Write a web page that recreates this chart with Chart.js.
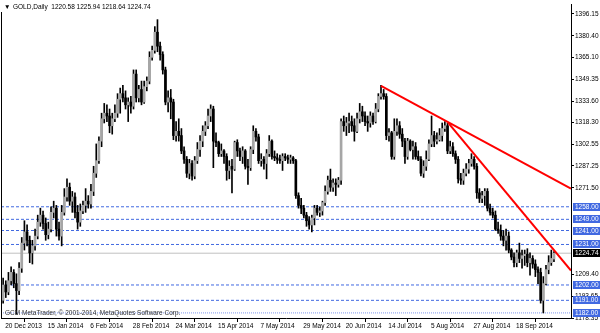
<!DOCTYPE html>
<html>
<head>
<meta charset="utf-8">
<script src="https://cdn.jsdelivr.net/npm/chart.js@4.4.1/dist/chart.umd.min.js"></script>
<style>
html, body { margin: 0; padding: 0; background: #fff; }
</style>
</head>
<body>
<canvas id="chart" width="600" height="333"></canvas>
<script>
// daily OHLC, bar 0 = 20 Dec 2013
var opens = [1191,1202,1197,1205,1211,1203,1198,1214,1232,1240,
    1234,1225,1230,1237,1247,1252,1246,1238,1242,1254,
    1257,1242,1237,1254,1265,1272,1262,1265,1254,1247,
    1255,1259,1262,1260,1269,1282,1291,1305,1321,1325,
    1323,1316,1321,1325,1335,1339,1336,1331,1333,1330,
    1353,1336,1342,1333,1344,1348,1365,1370,1383,1373,
    1367,1356,1333,1336,1333,1309,1312,1309,1298,1292,
    1282,1289,1280,1291,1299,1305,1312,1316,1323,1328,
    1305,1304,1296,1298,1294,1284,1287,1285,1304,1298,
    1294,1298,1287,1286,1299,1312,1308,1291,1292,1289,
    1296,1305,1294,1293,1292,1291,1294,1293,1292,1293,
    1291,1266,1259,1257,1252,1248,1245,1250,1257,1254,
    1255,1261,1269,1277,1272,1275,1274,1277,1319,1316,
    1318,1319,1316,1312,1321,1326,1323,1319,1318,1323,
    1319,1328,1337,1339,1337,1309,1311,1294,1312,1316,
    1310,1305,1294,1305,1299,1301,1294,1292,1282,1287,
    1292,1303,1309,1305,1306,1309,1314,1316,1298,1301,
    1296,1292,1278,1277,1282,1285,1289,1292,1287,1268,
    1264,1266,1269,1257,1254,1252,1242,1241,1237,1234,
    1237,1227,1222,1218,1225,1221,1223,1224,1218,1221,
    1217,1213,1211,1191,1203,1213,1218,1220.58];
var highs = [1207,1205,1211,1215,1213,1210,1218,1236,1248,1245,
    1237,1234,1242,1252,1257,1255,1250,1247,1258,1262,
    1259,1247,1259,1271,1278,1275,1269,1268,1259,1260,
    1262,1271,1266,1274,1287,1303,1308,1325,1332,1331,
    1328,1325,1331,1339,1343,1345,1341,1336,1337,1356,
    1356,1345,1348,1348,1351,1369,1373,1387,1392,1376,
    1369,1358,1341,1342,1335,1319,1321,1314,1301,1294,
    1292,1291,1294,1304,1309,1316,1319,1328,1331,1330,
    1311,1305,1303,1299,1296,1291,1292,1305,1306,1300,
    1301,1299,1292,1301,1316,1314,1310,1296,1294,1299,
    1309,1306,1298,1296,1295,1296,1296,1295,1295,1294,
    1292,1268,1264,1259,1254,1251,1252,1259,1259,1258,
    1262,1273,1280,1285,1278,1278,1279,1321,1323,1322,
    1325,1323,1321,1325,1332,1330,1326,1323,1326,1325,
    1332,1339,1345,1342,1339,1314,1312,1321,1321,1319,
    1314,1307,1307,1306,1305,1304,1298,1294,1291,1298,
    1306,1323,1312,1311,1314,1318,1319,1318,1305,1304,
    1298,1294,1282,1285,1289,1292,1296,1294,1289,1271,
    1269,1271,1271,1260,1257,1255,1247,1245,1241,1242,
    1240,1228,1225,1227,1232,1227,1227,1228,1225,1223,
    1220,1215,1214,1208,1216,1223,1227,1225.94];
var lows = [1189,1193,1195,1202,1200,1181,1195,1211,1227,1230,
    1218,1217,1227,1235,1244,1242,1234,1235,1240,1250,
    1237,1234,1230,1252,1262,1259,1254,1250,1242,1244,
    1253,1254,1257,1257,1266,1279,1289,1301,1318,1319,
    1311,1310,1319,1322,1325,1333,1328,1319,1325,1328,
    1333,1333,1331,1332,1341,1346,1363,1368,1369,1363,
    1353,1331,1326,1321,1306,1305,1305,1296,1289,1279,
    1278,1277,1278,1289,1294,1301,1309,1314,1319,1286,
    1301,1294,1294,1289,1277,1278,1268,1284,1294,1291,
    1289,1285,1274,1284,1296,1305,1289,1287,1285,1278,
    1294,1292,1291,1289,1289,1284,1291,1289,1289,1289,
    1264,1257,1253,1250,1244,1242,1240,1245,1252,1251,
    1252,1259,1267,1269,1269,1266,1272,1274,1312,1309,
    1311,1312,1305,1311,1318,1319,1316,1312,1315,1317,
    1318,1326,1335,1335,1306,1305,1292,1292,1309,1307,
    1301,1289,1292,1298,1292,1292,1291,1280,1279,1284,
    1291,1301,1301,1303,1305,1305,1312,1296,1296,1294,
    1289,1275,1274,1274,1280,1282,1287,1285,1264,1261,
    1261,1259,1255,1252,1250,1241,1239,1234,1230,1227,
    1225,1220,1215,1215,1218,1214,1216,1215,1209,1214,
    1208,1203,1189,1182,1202,1210,1216,1218.64];
var closes = [1202,1197,1205,1211,1203,1198,1214,1232,1240,1234,
    1225,1230,1237,1247,1252,1246,1238,1242,1254,1257,
    1242,1237,1254,1265,1272,1262,1265,1254,1247,1255,
    1259,1262,1260,1269,1282,1291,1305,1321,1325,1323,
    1316,1321,1325,1335,1339,1336,1331,1333,1330,1353,
    1336,1342,1333,1344,1348,1365,1370,1383,1373,1367,
    1356,1333,1336,1333,1309,1312,1309,1298,1292,1282,
    1289,1280,1291,1299,1305,1312,1316,1323,1328,1305,
    1304,1296,1298,1294,1284,1287,1285,1304,1298,1294,
    1298,1287,1286,1299,1312,1308,1291,1292,1289,1296,
    1305,1294,1293,1292,1291,1294,1293,1292,1293,1291,
    1266,1259,1257,1252,1248,1245,1250,1257,1254,1255,
    1261,1269,1277,1272,1275,1274,1277,1319,1316,1318,
    1319,1316,1312,1321,1326,1323,1319,1318,1323,1319,
    1328,1337,1339,1337,1309,1311,1294,1312,1316,1310,
    1305,1294,1305,1299,1301,1294,1292,1282,1287,1292,
    1303,1309,1305,1306,1309,1314,1316,1298,1301,1296,
    1292,1278,1277,1282,1285,1289,1292,1287,1268,1264,
    1266,1269,1257,1254,1252,1242,1241,1237,1234,1237,
    1227,1222,1218,1225,1221,1223,1224,1218,1221,1217,
    1213,1211,1191,1203,1213,1218,1221,1224.74];

var dateTickBars = [0, 16, 32, 48, 64, 80, 96, 112, 128, 144, 160, 176, 192];
var dateTickLabels = ["20 Dec 2013", "15 Jan 2014", "6 Feb 2014", "28 Feb 2014", "24 Mar 2014",
    "15 Apr 2014", "7 May 2014", "29 May 2014", "20 Jun 2014", "14 Jul 2014",
    "5 Aug 2014", "27 Aug 2014", "18 Sep 2014"];
var priceTicks = [1396.15, 1380.40, 1365.10, 1349.35, 1333.60, 1318.30, 1302.55,
    1287.25, 1271.50, 1209.40, 1193.65, 1178.35];

// horizontal levels and trendlines drawn on the chart
var levels = [1258, 1249, 1241, 1231, 1202, 1191, 1182];
var bidPrice = 1224.74;
var trend1 = [[142, 1344.5], [213.4, 1271.0]];
var trend2 = [[167.2, 1318.2], [213.4, 1212.3]];

var xMin = -0.8, xMax = 213.4;
var yMin = 1178.35, yMax = 1402.55;
var blue = '#4169e1';
var fontFam = '"Liberation Sans", "DejaVu Sans", sans-serif';
var fontSize = 6.5;

var bodyData = [], wickData = [], bodyColors = [];
for (var i = 0; i < opens.length; i++) {
    bodyData.push({x: i, y: [opens[i], closes[i]]});
    wickData.push({x: i, y: [lows[i], highs[i]]});
    bodyColors.push(closes[i] >= opens[i] ? '#a6a6a6' : '#000000');
}

var datasets = [
    {type: 'bar', data: bodyData, backgroundColor: bodyColors, barThickness: 2,
        minBarLength: 1, grouped: false, order: 1},
    {type: 'bar', data: wickData, backgroundColor: '#000000', barThickness: 1,
        grouped: false, order: 2}
];

levels.forEach(function(v) {
    datasets.push({type: 'line', data: [{x: xMin, y: v}, {x: xMax, y: v}],
        borderColor: v === 1182 ? '#7d96ea' : blue, borderWidth: 1,
        borderDash: v === 1182 ? [1, 1] : [3, 2], pointRadius: 0, order: 3});
});
datasets.push({type: 'line', data: [{x: xMin, y: bidPrice}, {x: xMax, y: bidPrice}],
    borderColor: '#c0c0c0', borderWidth: 1, pointRadius: 0, order: 3});
[trend1, trend2].forEach(function(t) {
    datasets.push({type: 'line', data: [{x: t[0][0], y: t[0][1]}, {x: t[1][0], y: t[1][1]}],
        borderColor: '#ff0000', borderWidth: 2, pointRadius: 0, order: 0});
});

var decor = {
    id: 'decor',
    afterDraw: function(chart) {
        var ctx = chart.ctx;
        var y = chart.scales.y;
        var area = chart.chartArea;
        ctx.save();

        // left frame
        ctx.strokeStyle = '#000';
        ctx.lineWidth = 1;
        ctx.beginPath();
        ctx.moveTo(1.5, 12);
        ctx.lineTo(1.5, area.bottom);
        ctx.stroke();

        ctx.font = fontSize + 'px ' + fontFam;
        ctx.textBaseline = 'middle';
        ctx.textAlign = 'left';

        // price labels of the levels
        levels.forEach(function(v) {
            var py = Math.round(y.getPixelForValue(v));
            ctx.fillStyle = blue;
            ctx.fillRect(area.right + 2, py - 4, 600 - area.right - 2, 8);
            ctx.fillStyle = '#fff';
            ctx.fillText(v.toFixed(2), area.right + 4, py + 0.5);
        });
        var by = Math.round(y.getPixelForValue(bidPrice));
        ctx.fillStyle = '#000';
        ctx.fillRect(area.right + 2, by - 4, 600 - area.right - 2, 8);
        ctx.fillStyle = '#fff';
        ctx.fillText(bidPrice.toFixed(2), area.right + 4, by + 0.5);

        // header and copyright
        ctx.fillStyle = '#000';
        ctx.fillText('\u25BC', 4, 7);
        ctx.fillText('GOLD,Daily  ' + opens[opens.length - 1].toFixed(2) + ' ' + highs[highs.length - 1].toFixed(2) +
            ' ' + lows[lows.length - 1].toFixed(2) + ' ' + closes[closes.length - 1].toFixed(2), 13, 7);
        ctx.fillStyle = '#333';
        ctx.fillText('GCM MetaTrader, \u00A9 2001-2014, MetaQuotes Software Corp.', 5, 313);
        ctx.restore();
    }
};

new Chart(document.getElementById('chart'), {
    type: 'bar',
    data: {datasets: datasets},
    plugins: [decor],
    options: {
        responsive: false,
        animation: false,
        events: [],
        layout: {padding: {left: 1, top: 3, right: 0, bottom: 0}},
        plugins: {legend: {display: false}, tooltip: {enabled: false}},
        scales: {
            x: {
                type: 'linear',
                min: xMin,
                max: xMax,
                offset: false,
                afterBuildTicks: function(axis) {
                    axis.ticks = dateTickBars.map(function(b) { return {value: b}; });
                },
                afterFit: function(axis) { axis.height = 15; },
                ticks: {
                    autoSkip: false, maxRotation: 0, minRotation: 0, align: 'start',
                    labelOffset: 2, padding: 0, color: '#000',
                    font: {size: fontSize, family: fontFam},
                    callback: function(v) {
                        var k = dateTickBars.indexOf(v);
                        return k >= 0 ? dateTickLabels[k] : '';
                    }
                },
                grid: {drawOnChartArea: false, tickLength: 4, color: '#000'},
                border: {display: true, color: '#000'}
            },
            y: {
                position: 'right',
                min: yMin,
                max: yMax,
                afterBuildTicks: function(axis) {
                    axis.ticks = priceTicks.map(function(p) { return {value: p}; });
                },
                afterFit: function(axis) { axis.width = 29; },
                ticks: {
                    padding: 1, color: '#000',
                    font: {size: fontSize, family: fontFam},
                    callback: function(v) { return v.toFixed(2); }
                },
                grid: {drawOnChartArea: false, tickLength: 3, color: '#000'},
                border: {display: true, color: '#000'}
            }
        }
    }
});
</script>
</body>
</html>
